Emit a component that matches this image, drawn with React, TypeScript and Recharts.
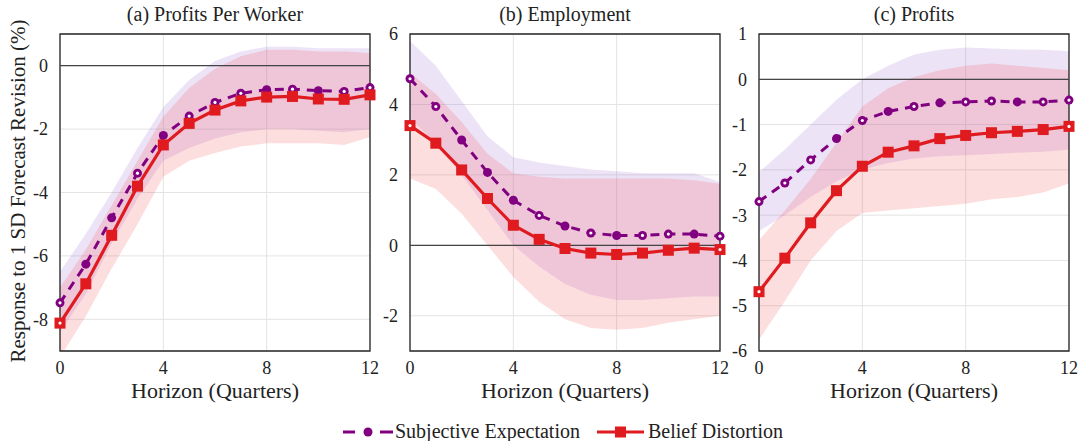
import React from 'react';
import {
  ComposedChart,
  Area,
  Line,
  XAxis,
  YAxis,
  CartesianGrid,
  ReferenceLine,
  ReferenceArea,
} from 'recharts';

const horizons = [0, 1, 2, 3, 4, 5, 6, 7, 8, 9, 10, 11, 12];

// (a) Profits Per Worker
const seA = [-7.48, -6.26, -4.8, -3.39, -2.2, -1.59, -1.16, -0.87, -0.76, -0.74, -0.79, -0.81, -0.69];
const bdA = [-8.12, -6.88, -5.35, -3.8, -2.5, -1.82, -1.4, -1.11, -0.99, -0.97, -1.05, -1.06, -0.92];
const seHiA = [-6.5, -5.3, -4.0, -2.6, -1.3, -0.45, 0.15, 0.45, 0.6, 0.6, 0.55, 0.55, 0.55];
const seLoA = [-8.4, -7.2, -5.6, -4.2, -3.0, -2.6, -2.3, -2.1, -2.0, -2.0, -2.05, -2.1, -2.0];
const bdHiA = [-7.0, -5.8, -4.4, -3.0, -1.6, -0.7, -0.1, 0.3, 0.5, 0.5, 0.45, 0.45, 0.4];
const bdLoA = [-9.2, -7.9, -6.4, -5.0, -3.5, -3.0, -2.75, -2.55, -2.45, -2.45, -2.45, -2.5, -2.25];

// (b) Employment
const seB = [4.73, 3.94, 2.99, 2.07, 1.28, 0.85, 0.55, 0.35, 0.28, 0.28, 0.32, 0.32, 0.26];
const bdB = [3.4, 2.9, 2.14, 1.33, 0.57, 0.17, -0.09, -0.22, -0.26, -0.22, -0.14, -0.08, -0.12];
const seHiB = [5.8, 5.1, 4.1, 3.1, 2.5, 2.35, 2.25, 2.15, 2.1, 2.05, 2.05, 2.05, 1.8];
const seLoB = [3.6, 2.9, 2.0, 1.0, 0.0, -0.6, -1.1, -1.4, -1.55, -1.55, -1.5, -1.45, -1.45];
const bdHiB = [4.9, 4.3, 3.5, 2.6, 2.05, 1.95, 1.9, 1.9, 1.9, 1.9, 1.9, 1.85, 1.75];
const bdLoB = [1.9, 1.6, 0.9, 0.0, -0.9, -1.6, -2.1, -2.35, -2.4, -2.35, -2.2, -2.1, -2.0];

// (c) Profits
const seC = [-2.7, -2.29, -1.78, -1.31, -0.91, -0.71, -0.6, -0.52, -0.5, -0.48, -0.5, -0.5, -0.46];
const bdC = [-4.69, -3.95, -3.17, -2.46, -1.92, -1.61, -1.47, -1.31, -1.24, -1.18, -1.15, -1.11, -1.04];
const seHiC = [-2.05, -1.55, -1.0, -0.45, 0.0, 0.3, 0.55, 0.65, 0.7, 0.68, 0.66, 0.65, 0.62];
const seLoC = [-3.35, -3.0, -2.6, -2.25, -2.0, -1.85, -1.75, -1.7, -1.68, -1.65, -1.62, -1.6, -1.55];
const bdHiC = [-3.55, -2.9, -2.2, -1.4, -0.6, -0.2, 0.05, 0.2, 0.3, 0.35, 0.3, 0.25, 0.2];
const bdLoC = [-5.75, -4.9, -4.0, -3.35, -2.95, -2.9, -2.85, -2.8, -2.75, -2.65, -2.6, -2.5, -2.3];

// markers drawn with a white centre (dash phase artefact in the original)
const seOpenA = [0, 3, 5, 6, 7, 9, 11, 12];
const seOpenB = [0, 1, 5, 7, 9, 10, 12];
const seOpenC = [0, 1, 2, 4, 6, 8, 9, 11, 12];
const bdOpenA = [0];
const bdOpenB = [0, 12];
const bdOpenC = [0, 12];

const PURPLE = '#800080';
const RED = '#e01b1f';
const FONT = '"Liberation Serif", "DejaVu Serif", serif';

const build = (se, bd, seLo, seHi, bdLo, bdHi) =>
  horizons.map((h, i) => ({
    h,
    se: se[i],
    bd: bd[i],
    seBand: [seLo[i], seHi[i]],
    bdBand: [bdLo[i], bdHi[i]],
  }));

const circleDot = (open) => (p) => {
  const { cx, cy, index } = p;
  return (
    <g key={`c-${index}`}>
      <circle cx={cx} cy={cy} r={4.5} fill={PURPLE} />
      {open.includes(index) && <circle cx={cx} cy={cy} r={1.6} fill="#fff" />}
    </g>
  );
};

const squareDot = (open) => (p) => {
  const { cx, cy, index } = p;
  return (
    <g key={`s-${index}`}>
      <rect x={cx - 5.5} y={cy - 5.5} width={11} height={11} fill={RED} />
      {open.includes(index) && <circle cx={cx} cy={cy} r={1.6} fill="#fff" />}
    </g>
  );
};

function Panel({ title, data, domain, ticks, plotLeft, seOpen, bdOpen }) {
  const plotW = 310;
  const yW = 50;
  return (
    <div style={{ position: 'absolute', left: plotLeft - yW, top: 0, width: yW + plotW + 12, height: 441 }}>
      <div
        style={{
          position: 'absolute',
          left: yW,
          width: plotW,
          top: 3,
          textAlign: 'center',
          fontFamily: FONT,
          fontSize: 20,
          color: '#222',
        }}
      >
        {title}
      </div>
      <ComposedChart
        width={yW + plotW + 12}
        height={441}
        data={data}
        margin={{ top: 34, right: 12, left: 0, bottom: 0 }}
      >
        <CartesianGrid stroke="#e3e3e3" strokeWidth={1} />
        <XAxis
          dataKey="h"
          type="number"
          domain={[0, 12]}
          ticks={[0, 4, 8, 12]}
          height={90}
          axisLine={false}
          tickLine={false}
          tickMargin={4}
          tick={{ fontFamily: FONT, fontSize: 18, fill: '#222' }}
          label={{
            value: 'Horizon (Quarters)',
            position: 'insideTop',
            offset: 31,
            style: { fontFamily: FONT, fontSize: 22, fill: '#222' },
          }}
        />
        <YAxis
          type="number"
          domain={domain}
          ticks={ticks}
          width={yW}
          axisLine={false}
          tickLine={false}
          tickMargin={6}
          allowDataOverflow
          tick={{ fontFamily: FONT, fontSize: 18, fill: '#222' }}
        />
        <Area
          type="linear"
          dataKey="seBand"
          stroke="none"
          fill="#a06cd5"
          fillOpacity={0.19}
          isAnimationActive={false}
        />
        <Area
          type="linear"
          dataKey="bdBand"
          stroke="none"
          fill="#f23a3f"
          fillOpacity={0.17}
          isAnimationActive={false}
        />
        <ReferenceLine y={0} stroke="#444" strokeWidth={1.2} />
        <Line
          type="linear"
          dataKey="se"
          stroke={PURPLE}
          strokeWidth={3}
          strokeDasharray="9 7"
          dot={circleDot(seOpen)}
          isAnimationActive={false}
        />
        <Line
          type="linear"
          dataKey="bd"
          stroke={RED}
          strokeWidth={3.2}
          dot={squareDot(bdOpen)}
          isAnimationActive={false}
        />
        <ReferenceArea
          x1={0}
          x2={12}
          y1={domain[0]}
          y2={domain[1]}
          fill="none"
          stroke="#262626"
          strokeWidth={1.3}
          ifOverflow="visible"
        />
      </ComposedChart>
    </div>
  );
}

function LegendBar() {
  return (
    <div
      style={{
        position: 'absolute',
        top: 421,
        left: 0,
        width: 1080,
        height: 20,
        fontFamily: FONT,
        fontSize: 20,
        color: '#222',
      }}
    >
      <svg style={{ position: 'absolute', left: 342, top: 2 }} width={52} height={16}>
        <line x1={1} y1={9} x2={13} y2={9} stroke={PURPLE} strokeWidth={3} />
        <circle cx={26} cy={9} r={4.5} fill={PURPLE} />
        <line x1={38} y1={9} x2={51} y2={9} stroke={PURPLE} strokeWidth={3} />
      </svg>
      <span style={{ position: 'absolute', left: 395, top: 0, lineHeight: '20px' }}>Subjective Expectation</span>
      <svg style={{ position: 'absolute', left: 596, top: 2 }} width={50} height={16}>
        <line x1={1} y1={9} x2={48} y2={9} stroke={RED} strokeWidth={3.2} />
        <rect x={19} y={3.5} width={11} height={11} fill={RED} />
      </svg>
      <span style={{ position: 'absolute', left: 648, top: 0, lineHeight: '20px' }}>Belief Distortion</span>
    </div>
  );
}

export default function App() {
  const dataA = build(seA, bdA, seLoA, seHiA, bdLoA, bdHiA);
  const dataB = build(seB, bdB, seLoB, seHiB, bdLoB, bdHiB);
  const dataC = build(seC, bdC, seLoC, seHiC, bdLoC, bdHiC);
  return (
    <div style={{ position: 'relative', width: 1080, height: 441, background: '#fff', overflow: 'hidden' }}>
      <style>{'body{margin:0;}'}</style>
      <div
        style={{
          position: 'absolute',
          left: 18,
          top: 191,
          transform: 'translate(-50%, -50%) rotate(-90deg)',
          whiteSpace: 'nowrap',
          fontFamily: FONT,
          fontSize: 21,
          color: '#222',
        }}
      >
        Response to 1 SD Forecast Revision (%)
      </div>
      <Panel
        title="(a) Profits Per Worker"
        data={dataA}
        domain={[-9, 1]}
        ticks={[-8, -6, -4, -2, 0]}
        plotLeft={60}
        seOpen={seOpenA}
        bdOpen={bdOpenA}
      />
      <Panel
        title="(b) Employment"
        data={dataB}
        domain={[-3, 6]}
        ticks={[-2, 0, 2, 4, 6]}
        plotLeft={410}
        seOpen={seOpenB}
        bdOpen={bdOpenB}
      />
      <Panel
        title="(c) Profits"
        data={dataC}
        domain={[-6, 1]}
        ticks={[-6, -5, -4, -3, -2, -1, 0, 1]}
        plotLeft={759}
        seOpen={seOpenC}
        bdOpen={bdOpenC}
      />
      <LegendBar />
    </div>
  );
}
